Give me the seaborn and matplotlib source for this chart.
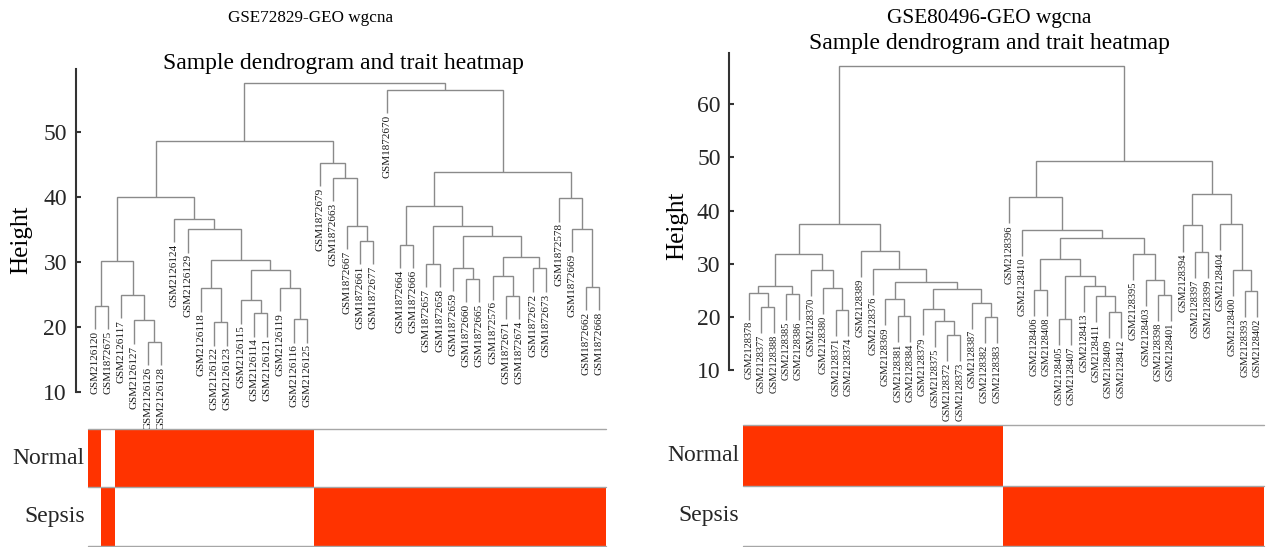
import matplotlib
matplotlib.use("Agg")
import matplotlib.pyplot as plt
from matplotlib.colors import ListedColormap
import pandas as pd
import seaborn as sns

# ---------------- GSE72829 ----------------
gse72829_samples = [
    "GSM2126120", "GSM1872675", "GSM2126117", "GSM2126127", "GSM2126126", "GSM2126128",
    "GSM2126124", "GSM2126129", "GSM2126118", "GSM2126122", "GSM2126123", "GSM2126115",
    "GSM2126114", "GSM2126121", "GSM2126119", "GSM2126116", "GSM2126125", "GSM1872679",
    "GSM1872663", "GSM1872667", "GSM1872661", "GSM1872677", "GSM1872670", "GSM1872664",
    "GSM1872666", "GSM1872657", "GSM1872658", "GSM1872659", "GSM1872660", "GSM1872665",
    "GSM1872576", "GSM1872671", "GSM1872674", "GSM1872672", "GSM1872673", "GSM1872578",
    "GSM1872669", "GSM1872662", "GSM1872668",
]
# N = Normal, S = Sepsis (one letter per sample, dendrogram order)
gse72829_status = "NS" "NNNNNNNNNNNNNNN" "SSSSSSSSSSSSSSSSSSSSSS"
# hclust-style merges: (child a, child b, height); leaves 0..n-1, node n+k = row k
gse72829_merges = [
    (4, 5, 17.7), (3, 39, 21.0), (0, 1, 23.2), (2, 40, 24.9), (41, 42, 30.1),
    (9, 10, 20.7), (8, 44, 25.9), (12, 13, 22.1), (11, 46, 24.1), (15, 16, 21.2),
    (14, 48, 26.0), (47, 49, 28.8), (45, 50, 30.2), (7, 51, 35.0), (6, 52, 36.6),
    (43, 53, 40.0), (20, 21, 33.2), (19, 55, 35.5), (18, 56, 42.9), (17, 57, 45.2),
    (54, 58, 48.6), (23, 24, 32.6), (25, 26, 29.7), (28, 29, 27.4), (27, 62, 29.1),
    (31, 32, 24.8), (30, 64, 27.8), (33, 34, 29.0), (65, 66, 30.7), (63, 67, 34.0),
    (61, 68, 35.5), (60, 69, 38.5), (37, 38, 26.2), (36, 71, 35.1), (35, 72, 39.75),
    (70, 73, 43.85), (22, 74, 56.4), (59, 75, 57.5),
]
gse72829_yticks = [10, 20, 30, 40, 50]

# ---------------- GSE80496 ----------------
gse80496_samples = [
    "GSM2128378", "GSM2128377", "GSM2128388", "GSM2128385", "GSM2128386", "GSM2128370",
    "GSM2128380", "GSM2128371", "GSM2128374", "GSM2128389", "GSM2128376", "GSM2128369",
    "GSM2128381", "GSM2128384", "GSM2128379", "GSM2128375", "GSM2128372", "GSM2128373",
    "GSM2128387", "GSM2128382", "GSM2128383", "GSM2128396", "GSM2128410", "GSM2128406",
    "GSM2128408", "GSM2128405", "GSM2128407", "GSM2128413", "GSM2128411", "GSM2128409",
    "GSM2128412", "GSM2128395", "GSM2128403", "GSM2128398", "GSM2128401", "GSM2128394",
    "GSM2128397", "GSM2128399", "GSM2128404", "GSM2128400", "GSM2128393", "GSM2128402",
]
gse80496_status = "NNNNNNNNNNNNNNNNNNNNN" "SSSSSSSSSSSSSSSSSSSSS"
gse80496_merges = [
    (1, 2, 21.9), (0, 42, 24.4), (3, 4, 24.3), (43, 44, 25.9), (7, 8, 21.3),
    (6, 46, 25.5), (5, 47, 28.9), (45, 48, 31.8), (12, 13, 20.1), (11, 50, 23.3),
    (16, 17, 16.6), (15, 52, 19.2), (14, 53, 21.4), (19, 20, 20.0), (18, 55, 22.7),
    (54, 56, 25.2), (51, 57, 26.6), (10, 58, 29.1), (9, 59, 32.4), (49, 60, 37.4),
    (23, 24, 25.0), (25, 26, 19.6), (29, 30, 20.9), (28, 64, 23.9), (27, 65, 25.9),
    (63, 66, 27.7), (62, 67, 30.9), (33, 34, 24.1), (32, 69, 27.0), (31, 70, 31.9),
    (68, 71, 34.75), (22, 72, 36.3), (21, 73, 42.5), (36, 37, 32.2), (35, 75, 37.2),
    (40, 41, 24.9), (39, 77, 28.9), (38, 78, 37.4), (76, 79, 43.2), (74, 80, 49.3),
    (61, 81, 67.2),
]
gse80496_yticks = [10, 20, 30, 40, 50, 60]

trait_names = ["Normal", "Sepsis"]

# ---------------- style ----------------
sns.set_style("white")
plt.rcParams["font.family"] = ["Liberation Serif", "DejaVu Serif"]

W, H = 1266, 547
fig = plt.figure(figsize=(W / 100, H / 100), dpi=100)
fig.patch.set_facecolor("white")

LINE = "#8a8a8a"
RED = "#ff3300"


def px_axes(x0, y0, x1, y1):
    return fig.add_axes([x0 / W, 1 - y1 / H, (x1 - x0) / W, (y1 - y0) / H])


def draw_dendrogram(ax, samples, merges, hang, ylim, yticks, label_size, spine_off):
    n = len(samples)
    pos = {i: i + 0.5 for i in range(n)}
    top = {}
    tips = {}
    for k, (a, b, h) in enumerate(merges):
        xa, xb = pos[a], pos[b]
        ya = top.get(a, h - hang)
        yb = top.get(b, h - hang)
        for c in (a, b):
            if c < n:
                tips[c] = h - hang
        ax.plot([xa, xa, xb, xb], [ya, h, h, yb], color=LINE, lw=1.0,
                solid_joinstyle="miter", solid_capstyle="butt")
        pos[n + k] = (xa + xb) / 2
        top[n + k] = h
    for i, name in enumerate(samples):
        ax.annotate(name, xy=(pos[i], tips[i]), xytext=(0, -1.2),
                    textcoords="offset points", rotation=90, ha="center", va="top",
                    fontsize=label_size, color="#1a1a1a", annotation_clip=False)
    ax.set_xlim(0, n)
    ax.set_ylim(*ylim)
    ax.set_xticks([])
    ax.set_yticks(yticks)
    for s in ("top", "right", "bottom"):
        ax.spines[s].set_visible(False)
    ax.spines["left"].set_position(("outward", spine_off))
    ax.spines["left"].set_bounds(*ylim)
    ax.spines["left"].set_linewidth(1.5)
    ax.spines["left"].set_color("#333333")
    ax.tick_params(axis="y", direction="in", length=3.6, width=1.5, color="#333333",
                   labelsize=17, pad=6.3, left=True)
    ax.patch.set_alpha(0)


def draw_traits(ax, status):
    table = pd.DataFrame(
        [[1 if s == "N" else 0 for s in status], [1 if s == "S" else 0 for s in status]],
        index=trait_names,
    )
    sns.heatmap(table, ax=ax, cmap=ListedColormap(["white", RED]), vmin=0, vmax=1,
                cbar=False, xticklabels=False, yticklabels=True)
    ax.set_yticklabels(trait_names, rotation=0, fontsize=17)
    ax.tick_params(axis="y", length=0, pad=2.5)
    ax.set_xlabel("")
    ax.set_ylabel("")
    for yb in (0, 1, 2):
        ax.axhline(yb, color="#a6a6a6", lw=1.0, clip_on=False)


# left panel
ax1 = px_axes(88, 69, 605.5, 392)
draw_dendrogram(ax1, gse72829_samples, gse72829_merges, 3.6, (10, 59.6),
                gse72829_yticks, 8, 8.9)
hm1 = px_axes(88, 429, 605.5, 545.7)
draw_traits(hm1, gse72829_status)

# right panel
ax2 = px_axes(742.7, 53.3, 1263.5, 370)
draw_dendrogram(ax2, gse80496_samples, gse80496_merges, 4.9, (10, 69.6),
                gse80496_yticks, 7.5, 9.6)
hm2 = px_axes(742.7, 425, 1263.5, 546)
draw_traits(hm2, gse80496_status)


def ftext(x, y, s, **kw):
    fig.text(x / W, 1 - y / H, s, ha="center", va="center", color="black", **kw)


ftext(311, 18, "GSE72829-GEO wgcna", fontsize=12.3)
ftext(343, 63, "Sample dendrogram and trait heatmap", fontsize=17)
ftext(21, 240, "Height", fontsize=18, rotation=90)

ftext(989, 18, "GSE80496-GEO wgcna", fontsize=15.3)
ftext(989, 44, "Sample dendrogram and trait heatmap", fontsize=17)
ftext(677, 226, "Height", fontsize=18, rotation=90)

fig.savefig("out.png", dpi=100, facecolor="white")
